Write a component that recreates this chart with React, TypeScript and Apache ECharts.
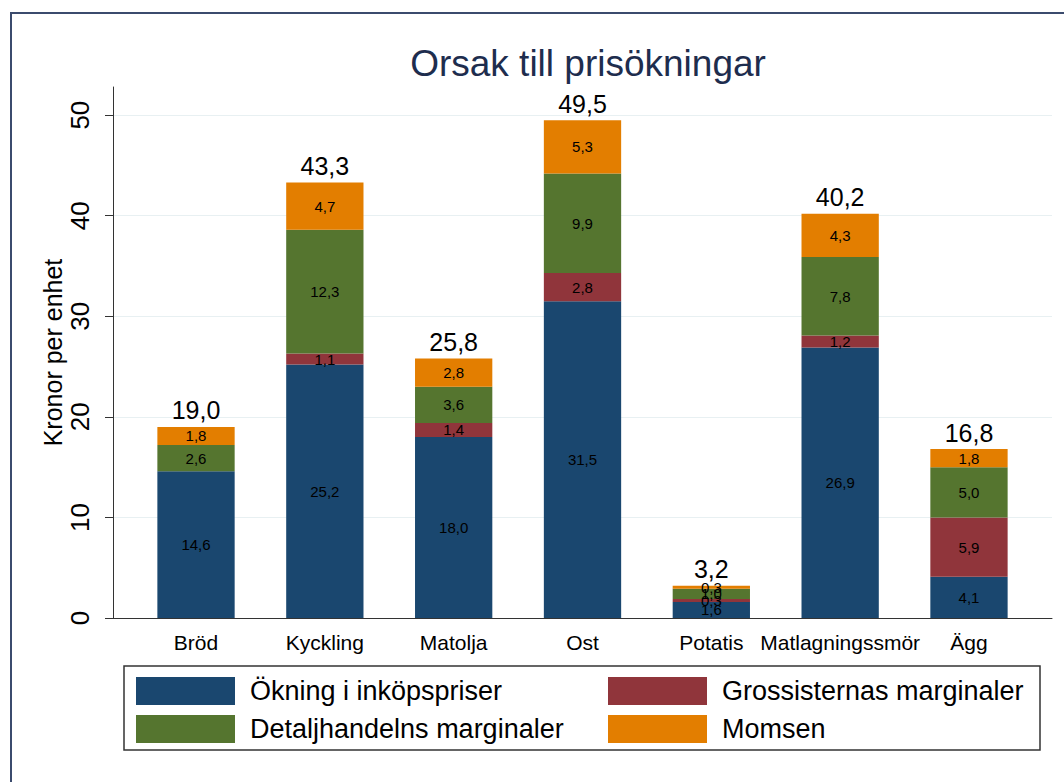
import React, { useEffect, useRef } from "react";
import * as echarts from "echarts";

const categories = ["Bröd", "Kyckling", "Matolja", "Ost", "Potatis", "Matlagningssmör", "Ägg"];
const okning = [14.6, 25.2, 18.0, 31.5, 1.6, 26.9, 4.1];
const grossist = [0, 1.1, 1.4, 2.8, 0.3, 1.2, 5.9];
const detalj = [2.6, 12.3, 3.6, 9.9, 1.0, 7.8, 5.0];
const moms = [1.8, 4.7, 2.8, 5.3, 0.3, 4.3, 1.8];
const totals = [19.0, 43.3, 25.8, 49.5, 3.2, 40.2, 16.8];
const yTicks = [0, 10, 20, 30, 40, 50];

const seriesNames = [
  "Ökning i inköpspriser",
  "Grossisternas marginaler",
  "Detaljhandelns marginaler",
  "Momsen",
];
const colors = ["#1a476f", "#90353b", "#55752f", "#e37e00"];

const FONT = "'Liberation Sans', Arial, Helvetica, sans-serif";
const fmt = (v: number) => v.toFixed(1).replace(".", ",");

export default function App() {
  const ref = useRef<HTMLDivElement>(null);
  useEffect(() => {
    if (!ref.current) return;
    const chart = echarts.init(ref.current, undefined, { renderer: "svg" });
    const yMax = 52.8;
    const plotTop = 87;
    const plotH = 531;
    const segLabel = {
      show: true,
      position: "inside",
      color: "#000",
      fontSize: 15,
      fontFamily: FONT,
      formatter: (p: any) => (p.value ? fmt(p.value) : ""),
    };
    const data = [okning, grossist, detalj, moms];
    const legendPos = [
      { left: 136, top: 677 },
      { left: 608, top: 677 },
      { left: 136, top: 715 },
      { left: 608, top: 715 },
    ];
    const option: any = {
      animation: false,
      backgroundColor: "#fff",
      textStyle: { fontFamily: FONT },
      title: {
        text: "Orsak till prisökningar",
        left: 583,
        top: 40,
        textAlign: "center",
        textStyle: { fontSize: 37, fontWeight: "normal", color: "#1e2d4e", fontFamily: FONT },
      },
      grid: [
        { left: 131.6, top: plotTop, width: 901.8, height: plotH },
        { left: 113, top: plotTop, width: 939, height: plotH },
      ],
      xAxis: [
        {
          gridIndex: 0,
          type: "category",
          data: categories,
          axisLine: { show: false },
          axisTick: { show: false },
          axisLabel: { interval: 0, fontSize: 21, color: "#000", margin: 14, fontFamily: FONT },
        },
        {
          gridIndex: 1,
          type: "value",
          min: 0,
          max: 1,
          axisLine: { show: true, lineStyle: { color: "#333", width: 1 } },
          axisTick: { show: false },
          axisLabel: { show: false },
          splitLine: { show: false },
        },
      ],
      yAxis: [
        { gridIndex: 0, type: "value", min: 0, max: yMax, show: false, splitLine: { show: false } },
        {
          gridIndex: 1,
          type: "value",
          min: 0,
          max: yMax,
          interval: 10,
          name: "Kronor per enhet",
          nameLocation: "middle",
          nameRotate: 90,
          nameGap: 48,
          nameMoveOverlap: false,
          nameTextStyle: { fontSize: 25, color: "#000", fontFamily: FONT },
          axisLine: { show: true, lineStyle: { color: "#333", width: 1 } },
          axisTick: { show: true, length: 8, lineStyle: { color: "#333" }, customValues: yTicks },
          axisLabel: {
            rotate: 90,
            fontSize: 26,
            color: "#000",
            margin: 20,
            customValues: yTicks,
            fontFamily: FONT,
            formatter: (v: number) => String(v),
          },
          splitLine: { show: true, lineStyle: { color: "#e8f0f2", width: 1 } },
        },
      ],
      legend: seriesNames.map((n, i) => ({
        data: [n],
        ...legendPos[i],
        orient: "horizontal",
        padding: 0,
        itemWidth: 99,
        itemHeight: 28,
        icon: "rect",
        selectedMode: false,
        textStyle: { fontSize: 27, color: "#000", fontFamily: FONT, padding: [0, 0, 0, 10] },
      })),
      graphic: [
        {
          type: "rect",
          shape: { x: 11, y: 13, width: 1100, height: 800 },
          style: { fill: "none", stroke: "#3b4b6d", lineWidth: 2 },
          silent: true,
        },
        {
          type: "rect",
          shape: { x: 124, y: 666, width: 916, height: 84 },
          style: { fill: "none", stroke: "#333", lineWidth: 1.5 },
          silent: true,
        },
      ],
      series: [
        ...seriesNames.map((n, i) => ({
          name: n,
          type: "bar",
          stack: "total",
          xAxisIndex: 0,
          yAxisIndex: 0,
          barWidth: "60%",
          itemStyle: { color: colors[i] },
          label: segLabel,
          data: data[i],
        })),
        {
          name: "Totalt",
          type: "bar",
          stack: "total",
          xAxisIndex: 0,
          yAxisIndex: 0,
          barWidth: "60%",
          itemStyle: { color: "transparent" },
          label: {
            show: true,
            position: "top",
            distance: 4,
            color: "#000",
            fontSize: 25,
            fontFamily: FONT,
            formatter: (p: any) => fmt(totals[p.dataIndex]),
          },
          data: totals.map(() => 0),
        },
      ],
    };
    chart.setOption(option);
    return () => chart.dispose();
  }, []);
  return (
    <div
      ref={ref}
      style={{ position: "fixed", left: 0, top: 0, width: 1064, height: 782 }}
    />
  );
}
